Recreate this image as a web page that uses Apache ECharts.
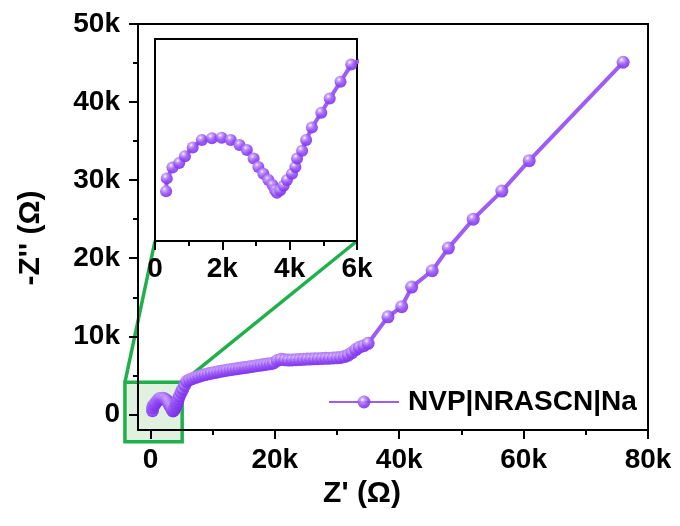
<!DOCTYPE html>
<html>
<head>
<meta charset="utf-8">
<script src="https://cdn.jsdelivr.net/npm/echarts@6/dist/echarts.min.js"></script>
<style>html,body{margin:0;padding:0;background:#fff;}#c{width:680px;height:526px;}</style>
</head>
<body>
<div id="c"></div>
<script>
// Z' (ohm)
const zReal = [330, 350, 520, 720, 890, 1120, 1390, 1690, 1980, 2250, 2510, 2730, 2930, 3070, 3220, 3370, 3490, 3570, 3620, 3720, 3820, 3920, 4070, 4170, 4220, 4370, 4490, 4660, 4940, 5190, 5510, 5830,
  6300, 6800, 7300, 7800, 8300, 8800, 9300, 9800, 10300, 10800, 11300, 11800, 12300, 12800, 13300, 13800, 14300, 14800, 15300, 15800, 16300, 16800, 17300, 17800, 18300, 18800, 19300, 19800,
  20400, 21000, 21600, 22200, 22800, 23400, 24000, 24600, 25200, 25800, 26400, 27000, 27600, 28200, 28800, 29400, 30000, 30600, 31200, 31800, 32400, 33000, 33600, 34300, 35000,
  38200, 40400, 42000, 45300, 47900, 51900, 56500, 60900, 76000];
// -Z'' (ohm)
const zImag = [480, 860, 1180, 1320, 1520, 1780, 2000, 2050, 2070, 2000, 1850, 1700, 1450, 1200, 1000, 810, 660, 510, 430, 510, 640, 810, 1000, 1200, 1450, 1680, 2000, 2370, 2810, 3230, 3730, 4240,
  4450, 4600, 4750, 4880, 5000, 5100, 5200, 5280, 5360, 5440, 5520, 5600, 5660, 5720, 5780, 5840, 5900, 5960, 6020, 6080, 6140, 6200, 6260, 6320, 6380, 6440, 6500, 6580,
  6900, 7050, 7000, 6950, 6980, 7000, 7020, 7050, 7080, 7100, 7120, 7140, 7160, 7180, 7200, 7220, 7250, 7300, 7400, 7600, 7900, 8300, 8600, 8800, 9100,
  12500, 13800, 16300, 18400, 21300, 25000, 28600, 32500, 45100];
const seriesName = 'NVP|NRASCN|Na';
const xMajorTicks = [0, 20000, 40000, 60000, 80000];
const xMinorTicks = [10000, 30000, 50000, 70000];
const yMajorTicks = [0, 10000, 20000, 30000, 40000, 50000];
const yMinorTicks = [5000, 15000, 25000, 35000, 45000];
const insetXTicks = [0, 2000, 4000, 6000];
// zoom region shown in the inset (data coordinates of main plot)
const zoomBoxX = [-4100, 5100];
const zoomBoxY = [-3500, 4100];
const insetYRange = [-1000, 5000];

const FONT = 'Liberation Sans';
const fmt = v => v === 0 ? '0' : (v / 1000) + 'k';
const data = zReal.map((x, i) => [x, zImag[i]]);
const sphere = {
  type: 'radial', x: 0.38, y: 0.32, r: 0.7,
  colorStops: [{offset: 0, color: '#ffffff'}, {offset: 0.22, color: '#c7a0fb'}, {offset: 0.6, color: '#9650f4'}, {offset: 1, color: '#7a2fec'}]
};
const lbl = {color: '#000', fontFamily: FONT, fontWeight: 'bold', fontSize: 28};
const axLine = {show: true, onZero: false, lineStyle: {color: '#000', width: 2}};

const chart = echarts.init(document.getElementById('c'), null, {renderer: 'canvas'});
chart.setOption({
  animation: false,
  backgroundColor: '#fff',
  grid: [
    {left: 138, right: 32, top: 24, bottom: 96, show: true, borderColor: '#000', borderWidth: 2},
    {left: 155, top: 39, width: 202, height: 202, show: true, borderColor: '#000', borderWidth: 2, backgroundColor: '#fff', z: 3}
  ],
  xAxis: [
    {type: 'value', gridIndex: 0, position: 'bottom', min: -2000, max: 80000, z: 5, axisLine: axLine,
     splitLine: {show: false},
     axisTick: {show: true, length: 9, lineStyle: {color: '#000', width: 2}, customValues: xMajorTicks},
     axisLabel: Object.assign({margin: 16, formatter: fmt, customValues: xMajorTicks}, lbl),
     name: "Z' (Ω)", nameLocation: 'middle', nameGap: 46,
     nameTextStyle: {color: '#000', fontFamily: FONT, fontWeight: 'bold', fontSize: 30, padding: [0, 62, 0, 0]}},
    {type: 'value', gridIndex: 0, position: 'bottom', min: -2000, max: 80000, z: 5, axisLine: {show: false, onZero: false},
     splitLine: {show: false},
     axisTick: {show: true, length: 5, lineStyle: {color: '#000', width: 2}, customValues: xMinorTicks},
     axisLabel: {show: false}},
    {type: 'value', gridIndex: 1, position: 'bottom', min: 0, max: 6000, interval: 2000, z: 6, axisLine: axLine,
     splitLine: {show: false},
     axisTick: {show: true, length: 9, lineStyle: {color: '#000', width: 2}},
     minorTick: {show: true, splitNumber: 2, length: 5, lineStyle: {color: '#000', width: 2}},
     axisLabel: Object.assign({margin: 14, formatter: fmt, customValues: insetXTicks}, lbl)}
  ],
  yAxis: [
    {type: 'value', gridIndex: 0, position: 'left', min: -2000, max: 50000, z: 5, axisLine: axLine,
     splitLine: {show: false},
     axisTick: {show: true, length: 9, lineStyle: {color: '#000', width: 2}, customValues: yMajorTicks},
     axisLabel: Object.assign({margin: 18, formatter: fmt, customValues: yMajorTicks}, lbl),
     name: "-Z'' (Ω)", nameLocation: 'middle', nameGap: 92, nameRotate: 90,
     nameTextStyle: {color: '#000', fontFamily: FONT, fontWeight: 'bold', fontSize: 30, padding: [0, 22, 0, 0]}},
    {type: 'value', gridIndex: 0, position: 'left', offset: 0, min: -2000, max: 50000, z: 5, axisLine: {show: false, onZero: false},
     splitLine: {show: false},
     axisTick: {show: true, length: 5, lineStyle: {color: '#000', width: 2}, customValues: yMinorTicks},
     axisLabel: {show: false}},
    {type: 'value', gridIndex: 1, position: 'left', min: insetYRange[0], max: insetYRange[1], z: 6, axisLine: axLine,
     splitLine: {show: false}, axisTick: {show: false}, axisLabel: {show: false}}
  ],
  legend: {
    left: 323, top: 383, itemWidth: 70, itemHeight: 16,
    data: [seriesName],
    textStyle: {color: '#000', fontFamily: FONT, fontWeight: 'bold', fontSize: 28, padding: [0, 0, 0, 4]}
  },
  series: [
    {name: seriesName, type: 'line', xAxisIndex: 0, yAxisIndex: 0, data: data, z: 2,
     symbol: 'circle', symbolSize: 13, showSymbol: true,
     lineStyle: {color: '#9d5cf6', width: 4},
     itemStyle: {color: sphere, opacity: 0.9}},
    {name: seriesName + ' inset', type: 'line', xAxisIndex: 2, yAxisIndex: 2, data: data, z: 4, clip: true,
     symbol: 'circle', symbolSize: 12, showSymbol: true,
     lineStyle: {color: '#9d5cf6', width: 4},
     itemStyle: {color: sphere, opacity: 0.9}}
  ]
});

// zoom box and connector lines
const p = pt => chart.convertToPixel({xAxisIndex: 0, yAxisIndex: 0}, pt);
const q = pt => chart.convertToPixel({xAxisIndex: 2, yAxisIndex: 2}, pt);
const bTL = p([zoomBoxX[0], zoomBoxY[1]]);
const bBR = p([zoomBoxX[1], zoomBoxY[0]]);
const iBL = q([0, insetYRange[0]]);
const iBR = q([6000, insetYRange[0]]);
const G = '#1fb04b';
chart.setOption({
  graphic: [
    {type: 'rect', z: 1, shape: {x: bTL[0], y: bTL[1], width: bBR[0] - bTL[0], height: bBR[1] - bTL[1]},
     style: {fill: 'rgba(120,190,110,0.22)', stroke: G, lineWidth: 3.5}},
    {type: 'line', z: 1, shape: {x1: bTL[0], y1: bTL[1], x2: iBL[0], y2: iBL[1]}, style: {stroke: G, lineWidth: 3.5}},
    {type: 'line', z: 1, shape: {x1: bBR[0], y1: bTL[1], x2: iBR[0], y2: iBR[1]}, style: {stroke: G, lineWidth: 3.5}}
  ]
});
</script>
</body>
</html>
